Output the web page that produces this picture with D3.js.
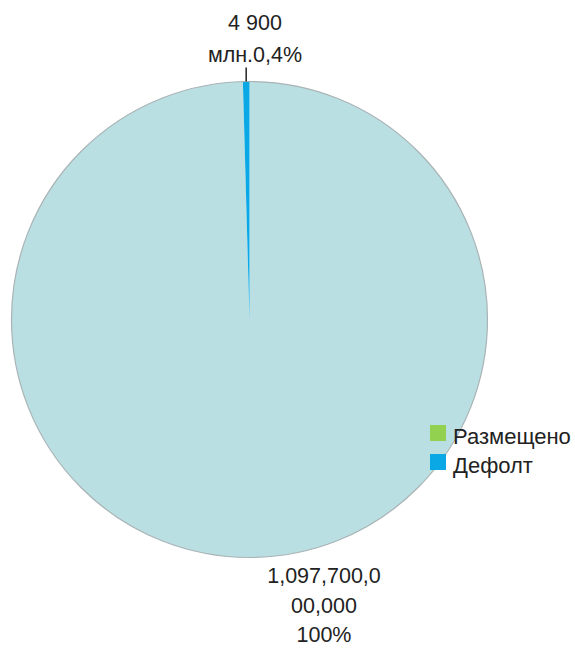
<!DOCTYPE html>
<html>
<head>
<meta charset="utf-8">
<script src="https://cdn.jsdelivr.net/npm/d3@7/dist/d3.min.js"></script>
<style>
  html, body { margin: 0; padding: 0; background: #fff; }
  svg text { font-family: "Liberation Sans", Arial, sans-serif; fill: #222; }
</style>
</head>
<body>
<svg id="chart" width="575" height="648"></svg>
<script>
const categories = ["Размещено", "Дефолт"];
const values = [1097700000000, 4900000000];
const sliceColors = ["#BADFE3", "#0AA9E6"];
const legendColors = ["#92D050", "#0AA9E6"];
const labelLines = [["1,097,700,0", "00,000", "100%"], ["4 900", "млн.0,4%"]];

const svg = d3.select("#chart");
const cx = 249.5, cy = 319.5, r = 238;

const data = categories.map((c, i) => ({ name: c, value: values[i], color: sliceColors[i], legend: legendColors[i], lines: labelLines[i] }));
const pie = d3.pie().sort(null).value(d => d.value);
const arcs = pie(data);
const arc = d3.arc().innerRadius(0).outerRadius(r);

const g = svg.append("g").attr("transform", `translate(${cx},${cy})`);
g.selectAll("path.slice").data(arcs).join("path")
  .attr("class", "slice")
  .attr("d", arc)
  .attr("fill", d => d.data.color)
  .attr("stroke", "none");
g.append("circle").attr("r", r).attr("fill", "none").attr("stroke", "#a9b3b5").attr("stroke-width", 1.2);

// Labels
const fs = 21.5;
const small = arcs[1];
const smallAng = (small.startAngle + small.endAngle) / 2;
const lx = r * Math.sin(smallAng), ly = -r * Math.cos(smallAng);
g.append("line")
  .attr("x1", lx).attr("y1", ly)
  .attr("x2", lx).attr("y2", ly - 14)
  .attr("stroke", "#222").attr("stroke-width", 1.5);
const topText = svg.append("text").attr("text-anchor", "middle").attr("font-size", fs);
small.data.lines.forEach((t, i) => {
  topText.append("tspan").attr("x", 255).attr("y", 30 + i * 31.5).text(t);
});

const bigText = svg.append("text").attr("text-anchor", "middle").attr("font-size", fs);
arcs[0].data.lines.forEach((t, i) => {
  bigText.append("tspan").attr("x", 324).attr("y", 583 + i * 29.5).text(t);
});

// Legend
const legend = svg.append("g").attr("transform", "translate(430,425)");
const items = legend.selectAll("g").data(data).join("g")
  .attr("transform", (d, i) => `translate(0,${i * 29})`);
items.append("rect").attr("width", 16).attr("height", 16).attr("fill", d => d.legend);
items.append("text").attr("x", 23).attr("y", 19).attr("font-size", 22).text(d => d.name);
</script>
</body>
</html>
